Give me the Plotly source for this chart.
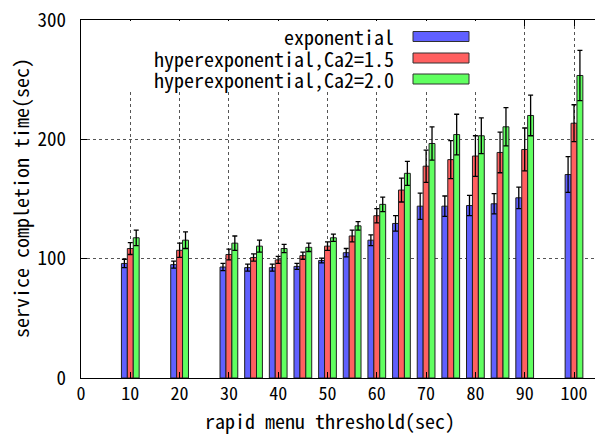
import plotly.graph_objects as go

# ---- data ----
thresholds = [10, 20, 30, 35, 40, 45, 50, 55, 60, 65, 70, 75, 80, 85, 90, 100]
series_names = ["exponential", "hyperexponential,Ca2=1.5", "hyperexponential,Ca2=2.0"]
exp_vals = [96, 95, 93, 92.5, 92.5, 93.5, 98.5, 105, 115.5, 129.5, 144, 144, 144.5, 146, 151, 170.5]
exp_err = [3.5, 3, 3, 3, 3, 2.5, 2, 3.5, 4.5, 6.5, 11, 8.5, 8.5, 8.5, 9, 15]
h15_vals = [108.5, 107, 103.5, 101, 99, 102.5, 110.5, 119, 136, 157.5, 177.5, 183, 186, 189, 191.5, 213.5]
h15_err = [5, 6, 4.5, 3, 3, 3, 3.5, 5, 6, 10, 13.5, 16, 17, 17, 18, 15.5]
h20_vals = [117.5, 115.5, 113, 110.5, 108.5, 109.5, 117.5, 127.5, 145.5, 171.5, 196.5, 204, 203, 210.5, 220, 253.5]
h20_err = [6.5, 7, 6, 5, 3.5, 3.5, 3, 3.5, 6, 10, 14, 17, 15, 16, 17, 21]
x_ticks = [0, 10, 20, 30, 40, 50, 60, 70, 80, 90, 100]
y_ticks = [0, 100, 200, 300]

colors = ["#6060ff", "#ff6060", "#60ff60"]
FONT = "Noto Sans Mono CJK JP, Noto Sans CJK JP, monospace"

W, H = 595, 437
L, T, B, R = 81, 20, 59, 0
PW, PH = W - L - R, H - T - B

fig = go.Figure()
for name, vals, errs, col in zip(series_names, [exp_vals, h15_vals, h20_vals],
                                 [exp_err, h15_err, h20_err], colors):
    fig.add_trace(go.Bar(
        x=thresholds, y=vals, name=name,
        marker=dict(color=col, line=dict(color="#202020", width=1)),
        error_y=dict(type="data", array=errs, visible=True, color="#000000",
                     thickness=1.3, width=2.5),
        showlegend=False,
    ))

def px2paper_x(px):
    return (px - L) / PW

def px2paper_y(py):
    return (H - B - py) / PH

# opaque legend box and entries
shapes = [dict(type="rect", xref="paper", yref="paper", layer="above",
               x0=px2paper_x(82), x1=px2paper_x(476), y0=px2paper_y(90), y1=px2paper_y(21),
               fillcolor="white", line=dict(width=0))]
annotations = []
row_y = [36.5, 58, 79]
for name, col, ry in zip(series_names, colors, row_y):
    shapes.append(dict(type="rect", xref="paper", yref="paper", layer="above",
                       x0=px2paper_x(413), x1=px2paper_x(469),
                       y0=px2paper_y(ry + 5), y1=px2paper_y(ry - 5),
                       fillcolor=col, line=dict(color="#303030", width=1)))
    annotations.append(dict(text=name, xref="paper", yref="paper", showarrow=False,
                            x=px2paper_x(396), y=px2paper_y(ry), xanchor="right", yanchor="middle",
                            font=dict(family=FONT, size=20, color="black")))

annotations.append(dict(text="rapid menu threshold(sec)", xref="paper", yref="paper", showarrow=False,
                        x=px2paper_x(330), y=px2paper_y(437), xanchor="center", yanchor="bottom",
                        font=dict(family=FONT, size=20, color="black")))
annotations.append(dict(text="service completion time(sec)", xref="paper", yref="paper", showarrow=False,
                        x=px2paper_x(20), y=px2paper_y(198), xanchor="center", yanchor="middle",
                        textangle=-90,
                        font=dict(family=FONT, size=20, color="black")))

fig.update_layout(
    width=W, height=H,
    margin=dict(l=L, r=R, t=T, b=B, pad=0),
    paper_bgcolor="white", plot_bgcolor="white",
    barmode="group", bargap=0.28, bargroupgap=0,
    font=dict(family=FONT, size=20, color="black"),
    shapes=shapes, annotations=annotations,
    xaxis=dict(range=[0, (W - L - R) / 4.93], tickmode="array", tickvals=x_ticks,
               ticktext=[str(v) for v in x_ticks],
               showline=True, linecolor="black", linewidth=1.2, mirror="ticks",
               ticks="inside", ticklen=6, tickcolor="black",
               showgrid=True, gridcolor="#555555", griddash="dot", gridwidth=1,
               zeroline=False, tickfont=dict(family=FONT, size=18),
               ticklabelstandoff=-1),
    yaxis=dict(range=[0, 300], tickmode="array", tickvals=y_ticks,
               showline=True, linecolor="black", linewidth=1.2, mirror=False,
               ticks="inside", ticklen=6, tickcolor="black",
               showgrid=True, gridcolor="#555555", griddash="dot", gridwidth=1,
               zeroline=False, tickfont=dict(family=FONT, size=19),
               ticklabelstandoff=10),
)

fig.write_html("out.html", config={"displayModeBar": False},
               post_script="document.body.style.margin='0';document.body.style.overflow='hidden';")
